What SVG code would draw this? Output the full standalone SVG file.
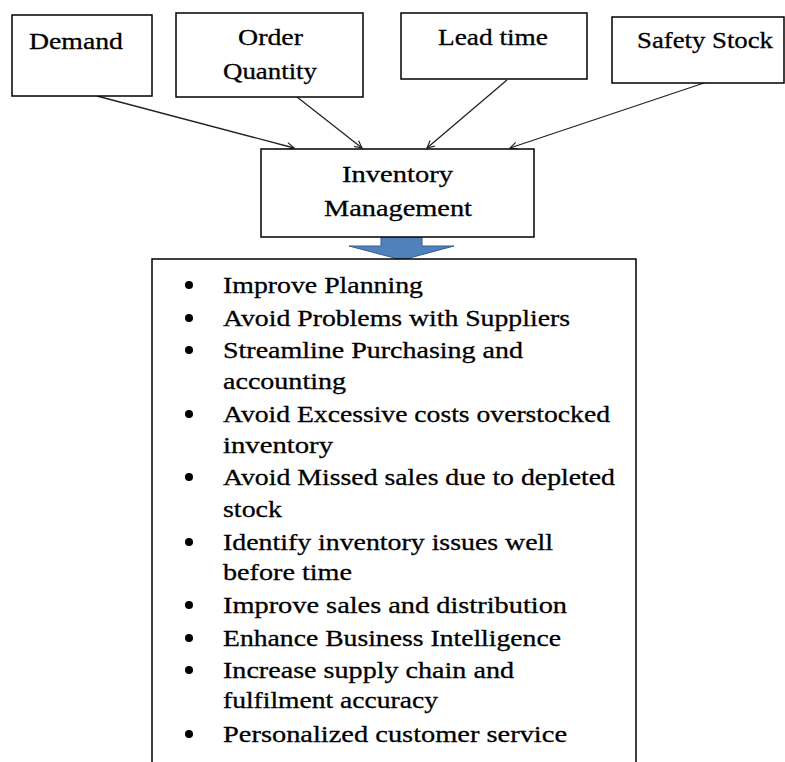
<svg xmlns="http://www.w3.org/2000/svg" width="785" height="762" viewBox="0 0 785 762">
<defs>
<style>
.box{fill:#fff;stroke:#000;stroke-width:1.5}
.t{font-family:"Liberation Serif","DejaVu Serif",serif;font-size:24px;fill:#000;stroke:#000;stroke-width:0.3}
.c{fill:none;stroke:#222;stroke-width:1.3}
.b{fill:#000}
</style>
<marker id="ah" viewBox="0 0 10 10" refX="9" refY="5" markerWidth="9" markerHeight="9" markerUnits="userSpaceOnUse" orient="auto">
<path d="M1,1 L9,5 L1,9" fill="none" stroke="#222" stroke-width="1.3"/>
</marker>
</defs>
<rect width="785" height="762" fill="#fff"/>
<g id="connectors">
<line class="c" x1="97" y1="96" x2="294" y2="148" marker-end="url(#ah)"/>
<line class="c" x1="297" y1="97" x2="362" y2="148" marker-end="url(#ah)"/>
<line class="c" x1="507" y1="80" x2="427" y2="148" marker-end="url(#ah)"/>
<line class="c" x1="707" y1="82" x2="510" y2="148" marker-end="url(#ah)"/>
<path id="blockArrow" d="M381,236 H422 V246 H454 L402,260 L349,246 H381 Z" fill="#4F81BD" stroke="#385D8A" stroke-width="1"/>
</g>
<g id="demand">
<rect class="box" x="12" y="15" width="140" height="81"/>
<text class="t" x="29" y="49" textLength="94" lengthAdjust="spacingAndGlyphs">Demand</text>
</g>
<g id="order-quantity">
<rect class="box" x="176" y="13" width="187" height="84"/>
<text class="t" x="238" y="45" textLength="65" lengthAdjust="spacingAndGlyphs">Order</text>
<text class="t" x="223" y="79" textLength="94" lengthAdjust="spacingAndGlyphs">Quantity</text>
</g>
<g id="lead-time">
<rect class="box" x="401" y="13" width="186" height="66"/>
<text class="t" x="438" y="45" textLength="110" lengthAdjust="spacingAndGlyphs">Lead time</text>
</g>
<g id="safety-stock">
<rect class="box" x="612" y="17" width="172" height="66"/>
<text class="t" x="637" y="48" textLength="136" lengthAdjust="spacingAndGlyphs">Safety Stock</text>
</g>
<g id="inventory-management">
<rect class="box" x="261" y="149" width="273" height="88"/>
<text class="t" x="342" y="182" textLength="111" lengthAdjust="spacingAndGlyphs">Inventory</text>
<text class="t" x="324" y="216" textLength="148" lengthAdjust="spacingAndGlyphs">Management</text>
</g>
<g id="benefits">
<path d="M152,770 V259 H636 V770" fill="#fff" stroke="#000" stroke-width="1.5"/>
<circle class="b" cx="189" cy="285" r="4"/>
<text class="t" x="223" y="293" textLength="200" lengthAdjust="spacingAndGlyphs">Improve Planning</text>
<circle class="b" cx="189" cy="318" r="4"/>
<text class="t" x="223" y="326" textLength="347" lengthAdjust="spacingAndGlyphs">Avoid Problems with Suppliers</text>
<circle class="b" cx="189" cy="350" r="4"/>
<text class="t" x="223" y="358" textLength="300" lengthAdjust="spacingAndGlyphs">Streamline Purchasing and</text>
<text class="t" x="223" y="389" textLength="123" lengthAdjust="spacingAndGlyphs">accounting</text>
<circle class="b" cx="189" cy="414" r="4"/>
<text class="t" x="223" y="422" textLength="387" lengthAdjust="spacingAndGlyphs">Avoid Excessive costs overstocked</text>
<text class="t" x="223" y="453" textLength="110" lengthAdjust="spacingAndGlyphs">inventory</text>
<circle class="b" cx="189" cy="477" r="4"/>
<text class="t" x="223" y="485" textLength="392" lengthAdjust="spacingAndGlyphs">Avoid Missed sales due to depleted</text>
<text class="t" x="223" y="517" textLength="59" lengthAdjust="spacingAndGlyphs">stock</text>
<circle class="b" cx="189" cy="542" r="4"/>
<text class="t" x="223" y="550" textLength="330" lengthAdjust="spacingAndGlyphs">Identify inventory issues well</text>
<text class="t" x="223" y="580" textLength="129" lengthAdjust="spacingAndGlyphs">before time</text>
<circle class="b" cx="189" cy="605" r="4"/>
<text class="t" x="223" y="613" textLength="344" lengthAdjust="spacingAndGlyphs">Improve sales and distribution</text>
<circle class="b" cx="189" cy="638" r="4"/>
<text class="t" x="223" y="646" textLength="338" lengthAdjust="spacingAndGlyphs">Enhance Business Intelligence</text>
<circle class="b" cx="189" cy="670" r="4"/>
<text class="t" x="223" y="678" textLength="291" lengthAdjust="spacingAndGlyphs">Increase supply chain and</text>
<text class="t" x="223" y="708" textLength="215" lengthAdjust="spacingAndGlyphs">fulfilment accuracy</text>
<circle class="b" cx="189" cy="734" r="4"/>
<text class="t" x="223" y="742" textLength="344" lengthAdjust="spacingAndGlyphs">Personalized customer service</text>
</g>
</svg>
